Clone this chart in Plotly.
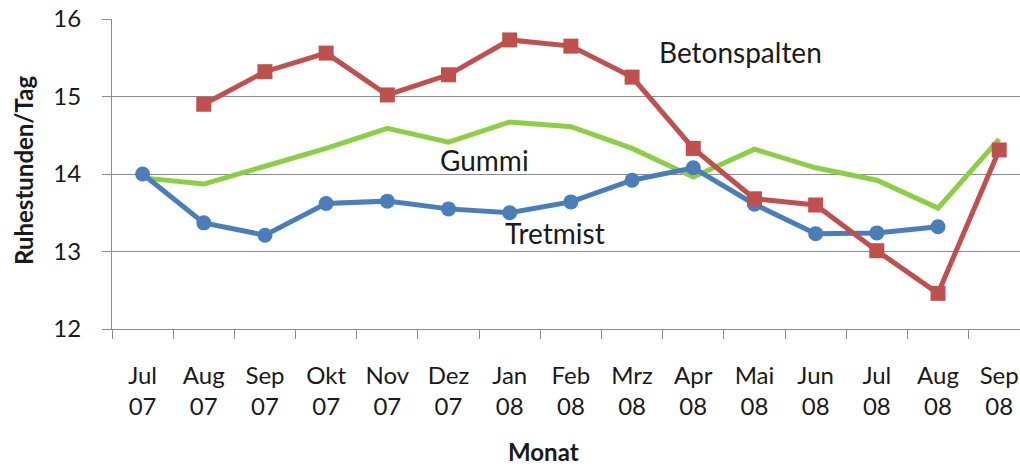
import plotly.graph_objects as go

# Monthly categories (month, two-digit year)
months = ["Jul", "Aug", "Sep", "Okt", "Nov", "Dez", "Jan", "Feb", "Mrz",
          "Apr", "Mai", "Jun", "Jul", "Aug", "Sep"]
years = ["07", "07", "07", "07", "07", "07", "08", "08", "08",
         "08", "08", "08", "08", "08", "08"]
tick_labels = [f"{m}<br>{y}" for m, y in zip(months, years)]
x_idx = list(range(len(months)))

# Resting hours per day for each floor type
tretmist = [14.00, 13.37, 13.21, 13.62, 13.65, 13.55, 13.50, 13.64, 13.92,
            14.08, 13.61, 13.23, 13.24, 13.32, None]
betonspalten = [None, 14.90, 15.32, 15.56, 15.02, 15.28, 15.73, 15.65, 15.25,
                14.33, 13.68, 13.60, 13.01, 12.46, 14.31]
gummi = [13.95, 13.87, 14.10, 14.33, 14.59, 14.41, 14.67, 14.61, 14.33,
         13.96, 14.32, 14.08, 13.92, 13.56, 14.45]

BLUE = "#4a7ebb"
RED = "#c0504d"
GREEN = "#8ccf45"
GRID = "#8c8c8c"
TEXT = "#1a1a1a"
FONT = "Lato"

fig = go.Figure()
fig.add_trace(go.Scatter(
    x=x_idx, y=gummi, mode="lines", name="Gummi",
    line=dict(color=GREEN, width=5)))
fig.add_trace(go.Scatter(
    x=x_idx, y=tretmist, mode="lines+markers", name="Tretmist",
    line=dict(color=BLUE, width=5),
    marker=dict(symbol="circle", size=15, color=BLUE)))
fig.add_trace(go.Scatter(
    x=x_idx, y=betonspalten, mode="lines+markers", name="Betonspalten",
    line=dict(color=RED, width=5),
    marker=dict(symbol="square", size=15, color=RED)))

# Series labels placed next to their lines
series_labels = [("Betonspalten", 9.78, 15.57), ("Gummi", 5.58, 14.18),
                 ("Tretmist", 6.74, 13.24)]
annotations = [dict(x=x, y=y, xref="x", yref="y", text=t, showarrow=False,
                    font=dict(family=FONT, size=28, color=TEXT))
               for t, x, y in series_labels]
annotations.append(dict(x=(543 - 112) / 908, y=(329 - 451) / 310,
                        xref="paper", yref="paper", text="<b>Monat</b>",
                        xanchor="center", yanchor="middle",
                        showarrow=False,
                        font=dict(family=FONT, size=24, color=TEXT)))
annotations.append(dict(x=(23 - 112) / 908, y=(329 - 171) / 310,
                        xref="paper", yref="paper",
                        text="<b>Ruhestunden/Tag</b>", textangle=-90,
                        xanchor="center", yanchor="middle",
                        showarrow=False,
                        font=dict(family=FONT, size=24, color=TEXT)))

fig.update_layout(
    width=1020, height=466,
    margin=dict(l=112, r=0, t=19, b=137),
    paper_bgcolor="white", plot_bgcolor="white",
    showlegend=False,
    annotations=annotations,
    xaxis=dict(
        type="linear", range=[-0.5, 14.34],
        tickmode="array", tickvals=x_idx, ticktext=tick_labels,
        showgrid=False, zeroline=False,
        showline=True, linecolor=GRID, linewidth=1,
        ticks="", ticklabelstandoff=25,
        tickfont=dict(family=FONT, size=24, color=TEXT)),
    xaxis2=dict(
        overlaying="x", range=[-0.5, 14.34], type="linear",
        tickmode="array", tickvals=[i - 0.5 for i in x_idx],
        showticklabels=False, showgrid=False, zeroline=False,
        ticks="outside", ticklen=9, tickcolor=GRID, tickwidth=1,
        side="bottom"),
    yaxis=dict(
        range=[12, 16], dtick=1, tick0=12,
        showgrid=True, gridcolor=GRID, gridwidth=1,
        zeroline=False,
        showline=True, linecolor=GRID, linewidth=1,
        ticks="outside", ticklen=9, tickcolor=GRID,
        ticklabelstandoff=16,
        tickfont=dict(family=FONT, size=24, color=TEXT)),
)

# Invisible trace to activate the boundary tick axis
fig.add_trace(go.Scatter(x=[0], y=[None], xaxis="x2", showlegend=False,
                         hoverinfo="skip"))

fig.write_html("out.html")
